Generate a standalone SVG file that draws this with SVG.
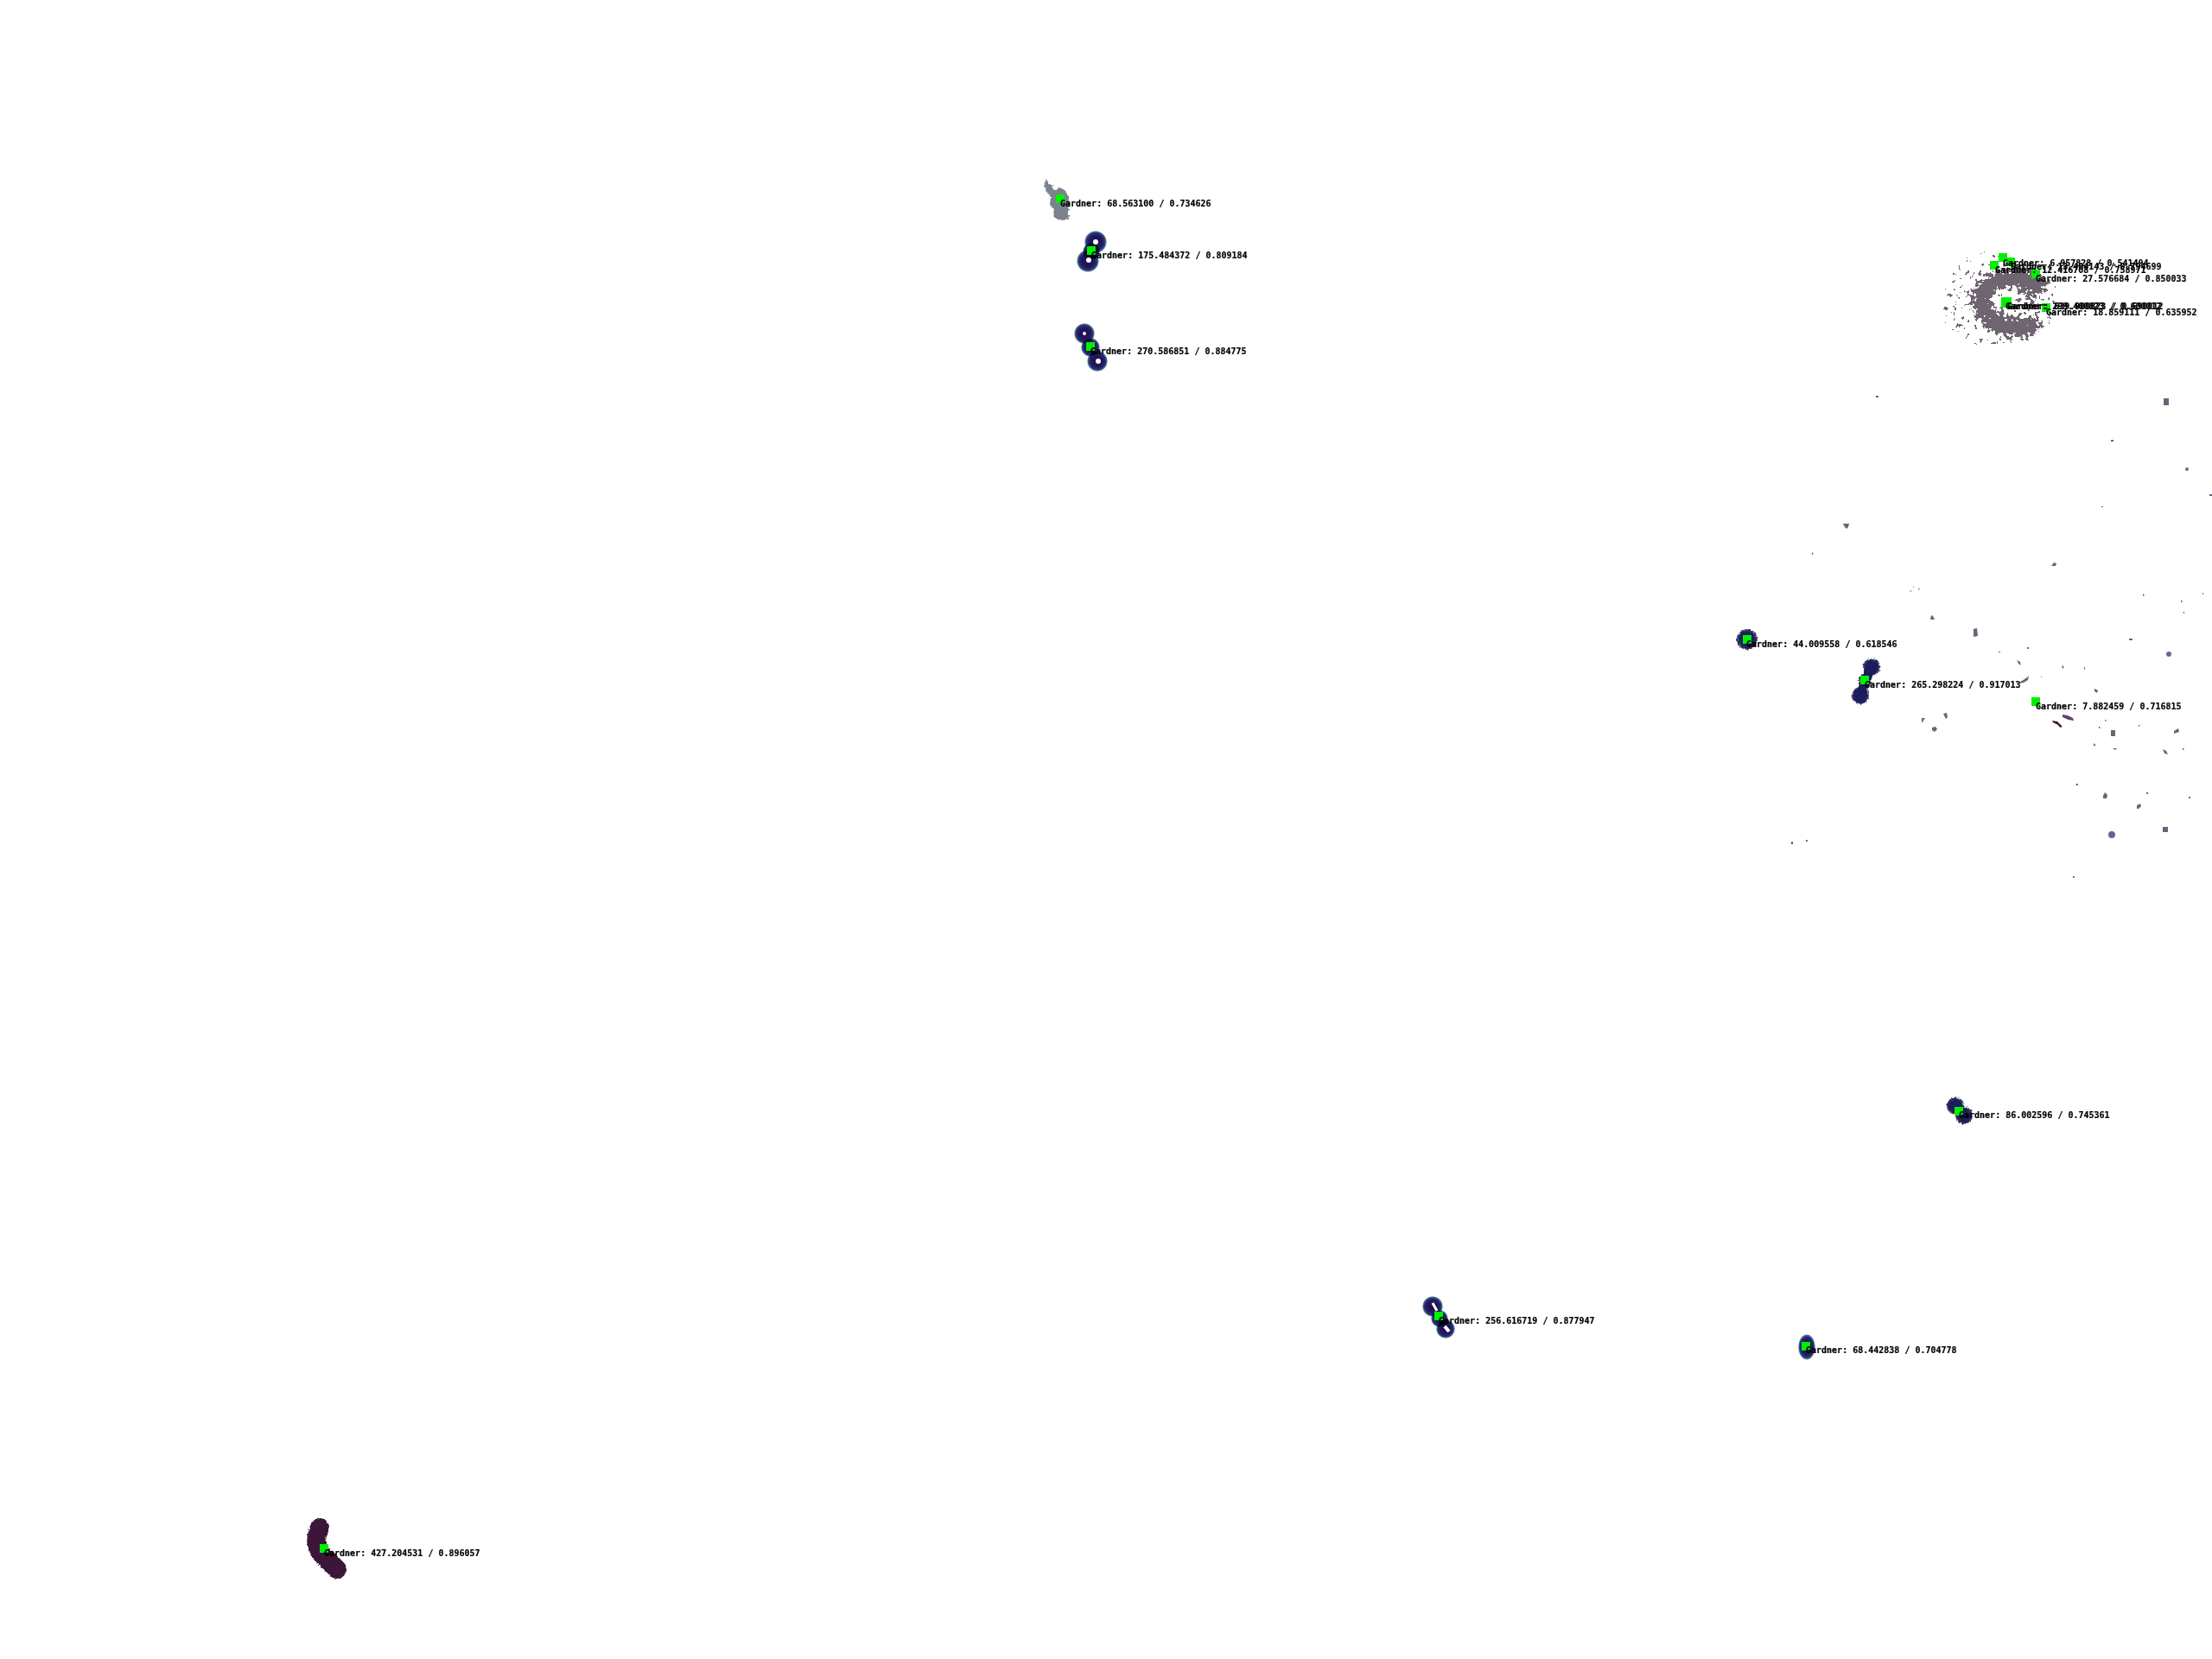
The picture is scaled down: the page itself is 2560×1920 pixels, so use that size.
<svg xmlns="http://www.w3.org/2000/svg" width="2560" height="1920" viewBox="0 0 2560 1920">
<style>
text{font-family:"DejaVu Sans Mono","Liberation Mono",monospace;font-size:10px;font-weight:700;fill:#000;stroke:#000;stroke-width:.2}
.m{fill:#00f000}
.w{fill:#fff}
.h{fill:url(#halo);mix-blend-mode:multiply}
.d{fill:url(#dark);mix-blend-mode:multiply}
.f{fill:#6f6a8c}
.k{fill:#6b6478}
</style>
<defs>
<radialGradient id="halo">
<stop offset="0" stop-color="#2a0a40"/>
<stop offset=".55" stop-color="#1e1860"/>
<stop offset=".8" stop-color="#2a2f70"/>
<stop offset=".93" stop-color="#5a8299"/>
<stop offset="1" stop-color="#a8c8d0" stop-opacity=".4"/>
</radialGradient>
<radialGradient id="dark">
<stop offset="0" stop-color="#1b1a60"/>
<stop offset=".75" stop-color="#20205c"/>
<stop offset="1" stop-color="#4d5070"/>
</radialGradient>
<filter id="rough" filterUnits="userSpaceOnUse" x="0" y="0" width="2560" height="1920">
<feTurbulence type="fractalNoise" baseFrequency=".45" numOctaves="1" seed="3" result="n"/>
<feDisplacementMap in="SourceGraphic" in2="n" scale="4" xChannelSelector="R" yChannelSelector="G"/>
</filter>
<filter id="speck" filterUnits="userSpaceOnUse" x="2220" y="270" width="200" height="170" color-interpolation-filters="sRGB">
<feGaussianBlur in="SourceAlpha" stdDeviation="4" result="b"/>
<feTurbulence type="fractalNoise" baseFrequency=".2" numOctaves="3" seed="11"/>
<feColorMatrix type="matrix" values="0 0 0 0 0 0 0 0 0 0 0 0 0 0 0 0 0 0 1.3 -.15" result="n"/>
<feComposite in="b" in2="n" operator="arithmetic" k2="1" k3="1" k4="-.6"/>
<feComponentTransfer result="t"><feFuncA type="discrete" tableValues="0 1"/></feComponentTransfer>
<feFlood flood-color="#6e6570"/>
<feComposite in2="t" operator="in"/>
</filter>
</defs>
<rect width="2560" height="1920" fill="#fff"/>
<g id="blobs-top" filter="url(#rough)">
<path fill="#7a8290" d="M1211 207l3 6 4 2 2 6 7-4 5 3 4 6 2 10-2 9 2 7-6 3-8-1-5-4 1-8-5-5 1-9-5-6-3-7z"/>
</g>
<g id="blobs-halo">
<circle class="h" cx="1268" cy="280" r="13"/><circle class="h" cx="1259" cy="302" r="13"/><circle class="h" cx="1263" cy="291" r="10"/>
<circle class="h" cx="1255" cy="386" r="12"/><circle class="h" cx="1262" cy="402" r="11"/><circle class="h" cx="1270" cy="418" r="12"/>
<circle class="h" cx="1658" cy="1512" r="12"/><circle class="h" cx="1666" cy="1526" r="10"/><circle class="h" cx="1673" cy="1538" r="11"/>
<ellipse class="h" cx="2091" cy="1559" rx="10" ry="15"/>
</g>
<g id="blobs-whites">
<circle class="w" cx="1268" cy="280" r="3"/><circle class="w" cx="1260" cy="301" r="3"/>
<circle class="w" cx="1255" cy="386" r="2"/><circle class="w" cx="1271" cy="418" r="3"/>
<path d="M1658 1508l5 9" stroke="#fff" stroke-width="3" fill="none"/>
<path d="M1672 1535l5 6" stroke="#fff" stroke-width="4" fill="none"/>
</g>
<g id="galaxy">
<g filter="url(#speck)">
<ellipse cx="2314" cy="348" rx="70" ry="58" fill="#000" fill-opacity=".36"/>
<path d="M2364 334C2340 314 2300 318 2294 345C2292 372 2325 388 2358 374" fill="none" stroke="#000" stroke-width="20"/>
<path d="M2340 338q14 6 16 18" fill="none" stroke="#000" stroke-width="6" stroke-opacity=".8"/>
</g>
</g>
<g id="blobs-mid" filter="url(#rough)">
<circle class="d" cx="2022" cy="740" r="12"/>
<circle class="d" cx="2166" cy="772" r="10"/><circle class="d" cx="2158" cy="787" r="7"/><circle class="d" cx="2153" cy="805" r="10"/>
<path d="M2165 772L2153 805" stroke="#1f1f5c" stroke-width="11" fill="none"/>
<circle class="d" cx="2263" cy="1280" r="10"/><circle class="d" cx="2273" cy="1291" r="10"/>
<path d="M370 1768Q360 1790 377 1803L390 1816" fill="none" stroke="#3a1538" stroke-width="22" stroke-linecap="round"/>
</g>
<g id="specks">
<rect class="k" x="2504" y="461" width="6" height="8"/><rect class="k" x="2171" y="458" width="3" height="2"/><rect class="k" x="2443" y="509" width="3" height="2"/><circle class="f" cx="2531" cy="543" r="2"/><rect class="k" x="2557" y="572" width="3" height="2"/><rect class="k" x="2432" y="586" width="2" height="1"/>
<path class="k" d="M2133 606h7l-1 4-2 2-2-2zM2374 655l3-4 3 1-1 3h-5zM2234 717l1-5 2 1 2 4zM2284 728l4-1 1 9-5 1z"/>
<path class="k" d="M2097 639l2 2-2 1zM2210 684l3-1-2 2zM2214 678l1 2-1 0zM2220 681l2 0-1 2zM2480 687l2 2-2 1zM2524 694l2 3-2 0zM2527 708h1v2h-1zM2549 686h1v2h-1zM2464 739h4v2h-4z"/>
<circle class="f" cx="2510" cy="757" r="3"/><rect class="k" x="2346" y="749" width="2" height="2"/><rect class="k" x="2313" y="754" width="2" height="1"/><path class="k" d="M2334 764l4 2 1 4-3-2zM2386 770l3 2-2 2zM2412 772h1v3h-1zM2337 790l9-6 2-2-1 5-5 3-5 1zM2362 782l1 2-1 0zM2424 797l4 2-1 3-3-2z"/>
<path class="k" d="M2249 826l4-1 1 5-2 2zM2224 831l4 0-2 3-1 2h-1zM2236 842l4-1 2 3-3 3-3-2z"/>
<path fill="#5c4468" d="M2387 827l6 1 6 3 1 3-6-1-7-3z"/><path fill="#3a1230" d="M2375 834l6 1 3 3 2 2 0 2-3-1-1-2-6-3z"/>
<rect class="k" x="2443" y="845" width="5" height="7"/><path class="k" d="M2516 846l5-3 1 4-6 2zM2423 860l3 3-3 0zM2445 866h5l-2 2zM2503 867l4 2 2 4-4-1zM2434 921l2-4 3 3-1 4h-4zM2473 932l4-2 1 3-3 3-2 0z"/>
<rect x="2403" y="907" width="1.500" height="2" fill="#333"/><rect class="k" x="2484" y="917" width="2" height="2"/><rect class="k" x="2533" y="922" width="2" height="2"/>
<circle fill="#6a5f98" cx="2444" cy="966" r="4"/><rect class="k" x="2503" y="957" width="6" height="6"/><rect class="k" x="2399" y="1014" width="2" height="2"/><rect class="k" x="2073" y="974" width="2" height="3"/><rect class="k" x="2090" y="972" width="2" height="2"/><rect class="k" x="2436" y="833" width="1.500" height="1.500"/><rect class="k" x="2429" y="841" width="1.500" height="2"/><rect class="k" x="2475" y="839" width="1.500" height="1.500"/><rect class="k" x="2526" y="866" width="1.500" height="2"/>
</g>
<g id="gardner-markers">
<rect class="m" x="1222" y="225" width="10" height="10"/>
<rect class="m" x="1258" y="285" width="10" height="10"/>
<rect class="m" x="1257" y="396" width="10" height="10"/>
<rect class="m" x="2313" y="293" width="10" height="10"/>
<rect class="m" x="2303" y="302" width="10" height="10"/>
<rect class="m" x="2322" y="298" width="10" height="10"/>
<rect class="m" x="2351" y="312" width="10" height="10"/>
<rect class="m" x="2316" y="344" width="12" height="12"/>
<rect class="m" x="2363" y="351" width="10" height="10"/>
<rect class="m" x="2017" y="735" width="10" height="10"/>
<rect class="m" x="2153" y="782" width="10" height="10"/>
<rect class="m" x="2351" y="807" width="10" height="10"/>
<rect class="m" x="2262" y="1281" width="10" height="10"/>
<rect class="m" x="1660" y="1518" width="10" height="10"/>
<rect class="m" x="2085" y="1553" width="10" height="10"/>
<rect class="m" x="370" y="1787" width="10" height="10"/>
</g>
<g id="labels">
<text x="1227" y="239">Gardner: 68.563100 / 0.734626</text>
<text x="1263" y="299">Gardner: 175.484372 / 0.809184</text>
<text x="1262" y="410">Gardner: 270.586851 / 0.884775</text>
<text x="2318" y="308">Gardner: 6.957828 / 0.541494</text>
<text x="2327" y="312">Gardner: 13.404143 / 0.794699</text>
<text x="2309" y="316">Gardner: 12.416708 / 0.758971</text>
<text x="2356" y="326">Gardner: 27.576684 / 0.850033</text>
<text x="2321" y="358">Gardner: 299.400823 / 0.600012</text>
<text x="2323" y="358">Gardner: 639.900823 / 0.690012</text>
<text x="2368" y="365">Gardner: 18.859111 / 0.635952</text>
<text x="2021" y="749">Gardner: 44.009558 / 0.618546</text>
<text x="2158" y="796">Gardner: 265.298224 / 0.917013</text>
<text x="2356" y="821">Gardner: 7.882459 / 0.716815</text>
<text x="2267" y="1294">Gardner: 86.002596 / 0.745361</text>
<text x="1665" y="1532">Gardner: 256.616719 / 0.877947</text>
<text x="2090" y="1566">Gardner: 68.442838 / 0.704778</text>
<text x="375" y="1801">Gardner: 427.204531 / 0.896057</text>
</g>
</svg>
